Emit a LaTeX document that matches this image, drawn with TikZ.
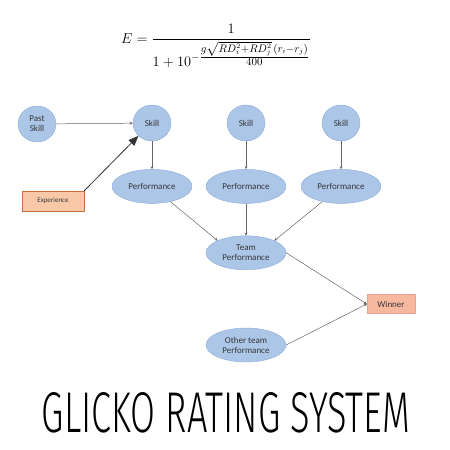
\documentclass[tikz,border=0pt]{standalone}
\usepackage{amsmath}
\usepackage{fontspec}
\usepackage{graphicx}
\usetikzlibrary{positioning,arrows.meta,shapes.geometric}
\newfontfamily\calib{Carlito}
\IfFontExistsTF{Fira Sans Light}
  {\newfontfamily\titlefont{Fira Sans Light}}
  {\IfFontExistsTF{Lato Light}
    {\newfontfamily\titlefont{Lato Light}}
    {\newfontfamily\titlefont{Fira Sans}}}
\definecolor{ellfill}{RGB}{172,198,232}
\definecolor{elldraw}{RGB}{140,170,215}
\definecolor{expfill}{RGB}{248,200,168}
\definecolor{expdraw}{RGB}{200,110,60}
\definecolor{winfill}{RGB}{247,184,160}
\definecolor{windraw}{RGB}{235,160,135}
\definecolor{txtgray}{RGB}{55,55,55}

\begin{document}
\begin{tikzpicture}[
  x=1pt,y=-1pt,
  font=\calib\fontsize{9}{10}\selectfont,
  >={Stealth[length=3pt,width=3pt]},
  node distance=28pt,
  % --- node looks ---
  base/.style   ={text=txtgray,align=center,inner sep=1pt},
  skill/.style  ={base,ellipse,draw=elldraw,fill=ellfill,
                  minimum width=38pt,minimum height=36pt},
  perf/.style   ={base,ellipse,draw=elldraw,fill=ellfill,
                  minimum width=80pt,minimum height=34pt},
  expbox/.style ={base,draw=expdraw,fill=expfill,minimum width=62pt,
                  minimum height=20pt,font=\calib\fontsize{7}{8}\selectfont},
  winbox/.style ={base,draw=windraw,fill=winfill,minimum width=48pt,
                  minimum height=19pt},
  flow/.style   ={->,draw=black!60,line width=0.5pt},
  bigflow/.style={-{Triangle[length=10pt,width=8pt]},draw=black!80,line width=0.8pt},
]
\useasboundingbox (0,0) rectangle (450,450);

% ============================ formula ============================
\node[font=\fontsize{15}{17}\selectfont] (formula) at (216,46)
  {$E=\dfrac{1}{1+10^{-\frac{\scriptstyle g\sqrt{RD_i^2+RD_j^2}\,(r_i-r_j)}{\scriptstyle 400}}}$};

% ============================ skills ============================
\node[skill] (past) at (37,124) {Past\\Skill};
\node[skill] (sk1) at (152,123) {Skill};
\node[skill] (sk2) at (246,123) {Skill};
\node[skill] (sk3) at (341,123) {Skill};

\node[perf,below=28pt of sk1] (pf1) {Performance};
\node[perf,below=28pt of sk2] (pf2) {Performance};
\node[perf,below=28pt of sk3] (pf3) {Performance};

\node[expbox] (exp) at (53,201) {Experience};

\node[perf,below=32pt of pf2] (team) {Team\\Performance};
\node[perf] (other) at (246,345) {Other team\\Performance};
\node[winbox] (win) at (391,304) {Winner};

% ============================ connectors ============================
\draw[flow] (past) -- (sk1);
\draw[bigflow] (exp.north east) -- (sk1.south west);
\foreach \i in {1,2,3}
  \draw[flow] (sk\i) -- (pf\i);
\draw[flow] (pf1) -- (team.north west);
\draw[flow] (pf2) -- (team);
\draw[flow] (pf3) -- (team.north east);
\draw[flow] (team.east) -- (win.west);
\draw[flow] (other.east) -- (win.west);

% ============================ title ============================
\node[inner sep=0pt] (title) at (226,413)
  {\resizebox{368pt}{40pt}{\titlefont GLICKO RATING SYSTEM}};
\end{tikzpicture}
\end{document}
